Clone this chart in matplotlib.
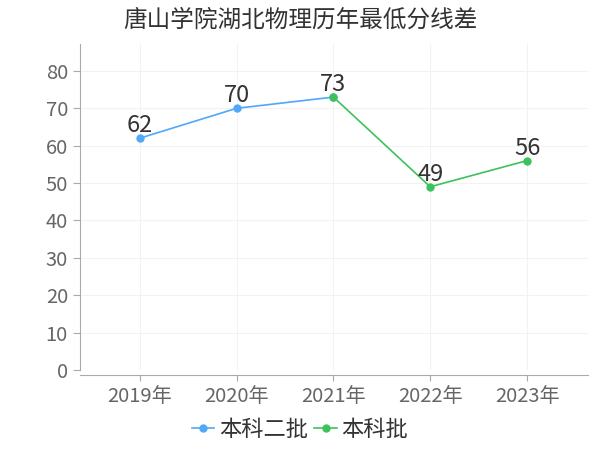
import matplotlib
matplotlib.use("Agg")
import matplotlib.pyplot as plt

plt.rcParams['font.family'] = ['Noto Sans CJK SC', 'DejaVu Sans']

years = ["2019年", "2020年", "2021年", "2022年", "2023年"]
s1_name = "本科二批"; s1_x = [0, 1, 2]; s1_y = [62, 70, 73]
s2_name = "本科批"; s2_x = [2, 3, 4]; s2_y = [73, 49, 56]
labels_x = [0, 1, 2, 3, 4]; labels_y = [62, 70, 73, 49, 56]

fig = plt.figure(figsize=(6, 4.5), dpi=100)
ax = fig.add_axes([0.133, 0.178, 0.847, 0.725])
c1 = "#4fa8f9"; c2 = "#3dc25a"
ax.plot(s1_x, s1_y, color=c1, lw=1.2, marker="o", ms=5, label=s1_name)
ax.plot(s2_x, s2_y, color=c2, lw=1.2, marker="o", ms=5, label=s2_name)
for x, y in zip(labels_x, labels_y):
    ax.text(x, y + 0.3, str(y), ha="center", va="bottom", fontsize=17, color="#333333")
ax.set_xlim(-0.62, 4.63); ax.set_ylim(0, 87.3)
ax.set_xticks(range(len(years))); ax.set_xticklabels(years)
ax.set_yticks(range(0, 90, 10))
ax.grid(True, color="#f2f2f2", lw=0.8)
ax.set_axisbelow(True)
for s in ["top", "right"]: ax.spines[s].set_visible(False)
ax.spines["left"].set_color("#aaaaaa"); ax.spines["bottom"].set_color("#aaaaaa")
ax.spines["bottom"].set_position(("outward", 4))
ax.tick_params(axis="both", colors="#aaaaaa", labelcolor="#666666", labelsize=14.5, length=4)
ax.tick_params(axis="y", length=5)
fig.text(0.5, 0.955, "唐山学院湖北物理历年最低分线差", ha="center", va="center", fontsize=17, color="#333333")
fig.legend(loc="center", bbox_to_anchor=(0.5, 0.045), ncol=2, frameon=False, fontsize=16,
           handlelength=1.0, handletextpad=0.2, columnspacing=0.3, labelcolor="#333333")
fig.savefig("out.png", dpi=100)
